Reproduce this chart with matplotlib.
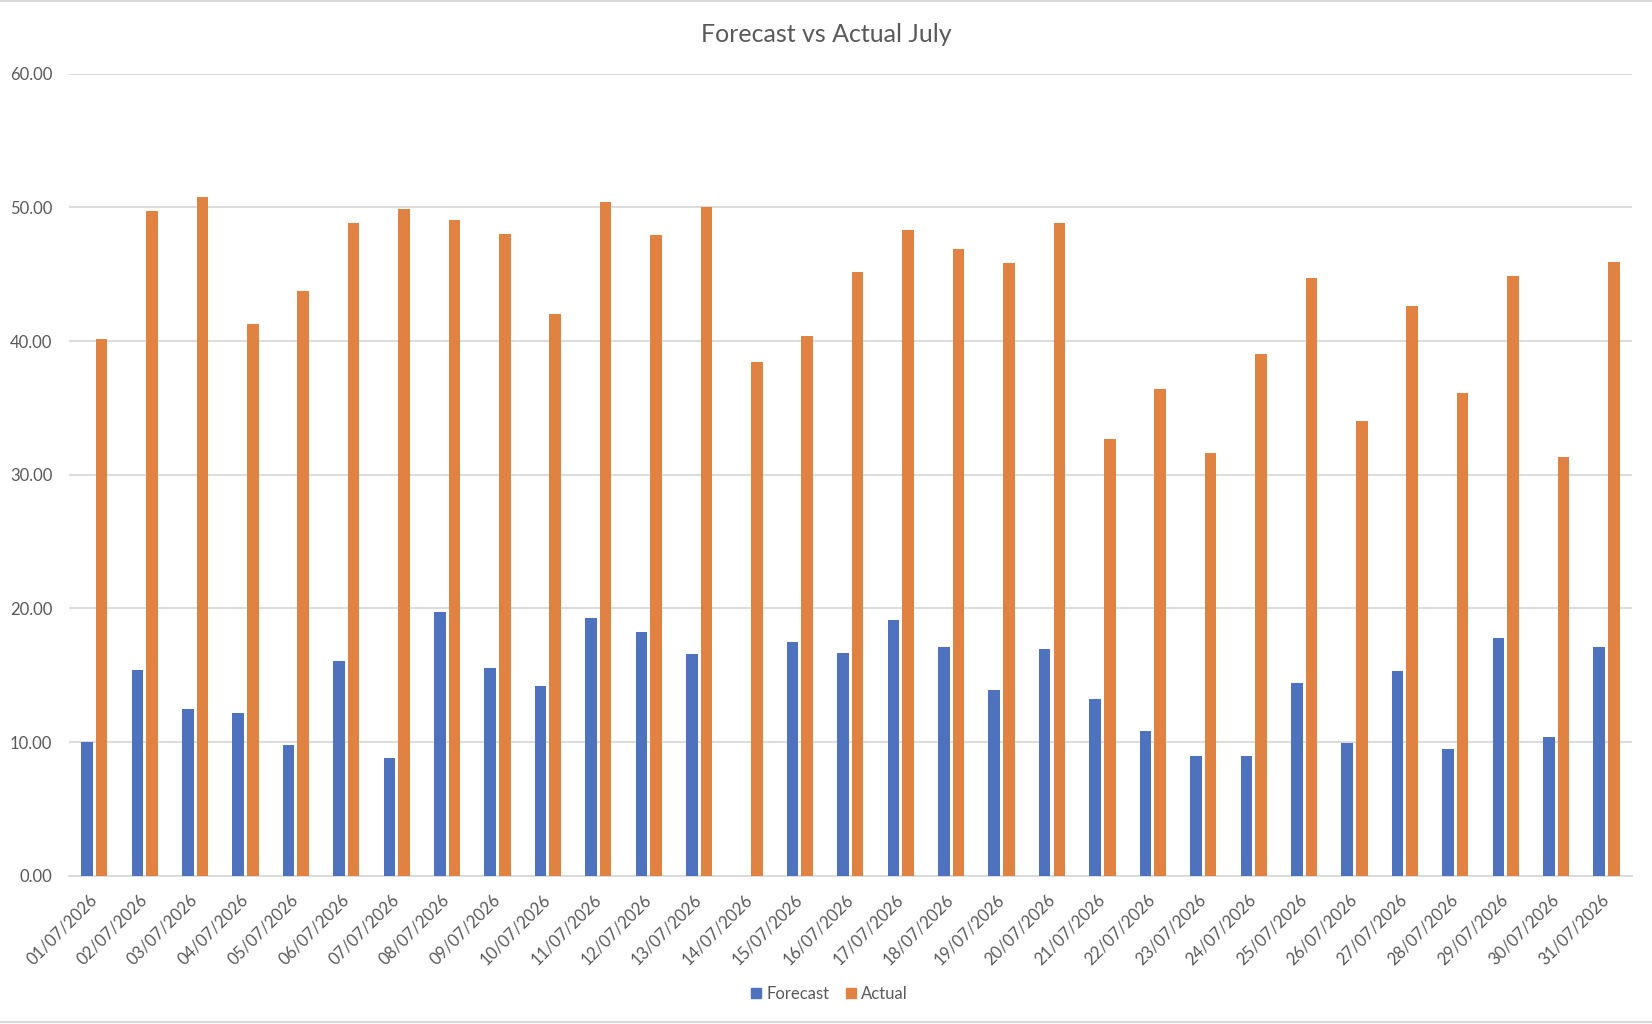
import matplotlib.pyplot as plt
import numpy as np
from matplotlib.patches import Patch
from matplotlib.lines import Line2D

plt.rcParams['font.family'] = ['Lato', 'DejaVu Sans']

dates = ['%02d/07/2026' % d for d in range(1, 32)]
forecast = [10.0, 15.41, 12.48, 12.18, 9.77, 16.09, 8.80, 19.77, 15.56, 14.21,
            19.32, 18.20, 16.62, 0.0, 17.52, 16.69, 19.10, 17.14, 13.91, 16.99,
            13.23, 10.83, 8.95, 8.95, 14.44, 9.92, 15.34, 9.47, 17.82, 10.38, 17.14]
actual = [40.15, 49.70, 50.75, 41.28, 43.76, 48.87, 49.92, 49.10, 48.05, 42.03,
          50.38, 47.97, 50.00, 38.42, 40.38, 45.19, 48.35, 46.92, 45.86, 48.87,
          32.71, 36.39, 31.65, 39.02, 44.74, 34.06, 42.63, 36.09, 44.89, 31.35, 45.94]

blue = '#4E72BE'
orange = '#E08242'
grey = '#595959'
gridc = '#D9D9D9'

fig = plt.figure(figsize=(16.52, 10.24), dpi=100)
ax = fig.add_axes([0.0418, 0.1448, 0.9459, 0.7831])

x = np.arange(len(dates))
w = 0.23
ax.bar(x - 0.145, forecast, w, color=blue, zorder=3)
ax.bar(x + 0.145, actual, w, color=orange, zorder=3)

ax.set_xlim(-0.5, len(dates) - 0.5)
ax.set_ylim(0, 60)
ax.set_yticks(np.arange(0, 61, 10))
ax.set_yticklabels(['%.2f' % v for v in np.arange(0, 61, 10)])
ax.yaxis.grid(True, color=gridc, linewidth=1.3, zorder=0)
for s in ['top', 'right', 'left']:
    ax.spines[s].set_visible(False)
ax.spines['bottom'].set_color(gridc)
ax.spines['bottom'].set_linewidth(1.3)
ax.tick_params(axis='y', length=0, pad=12, labelsize=12, labelcolor=grey)
ax.tick_params(axis='x', length=0, pad=15, labelsize=12, labelcolor=grey)
ax.set_xticks(x)
ax.set_xticklabels(dates, rotation=45, ha='right', va='center', rotation_mode='anchor')

fig.text(0.5, 0.966, 'Forecast vs Actual July', ha='center', va='center',
         fontsize=18, color=grey)

handles = [Patch(color=blue, label='Forecast'), Patch(color=orange, label='Actual')]
leg = fig.legend(handles=handles, loc='center', bbox_to_anchor=(0.502, 0.0296), ncol=2,
                 frameon=False, fontsize=12, handlelength=0.6, handleheight=0.6,
                 handletextpad=0.3, columnspacing=1.0)
for t in leg.get_texts():
    t.set_color(grey)

# chart border lines
fig.add_artist(Line2D([0, 1], [0.999, 0.999], color=gridc, linewidth=1.5))
fig.add_artist(Line2D([0, 1], [0.0015, 0.0015], color=gridc, linewidth=1.5))

fig.savefig('out.png', dpi=100)
